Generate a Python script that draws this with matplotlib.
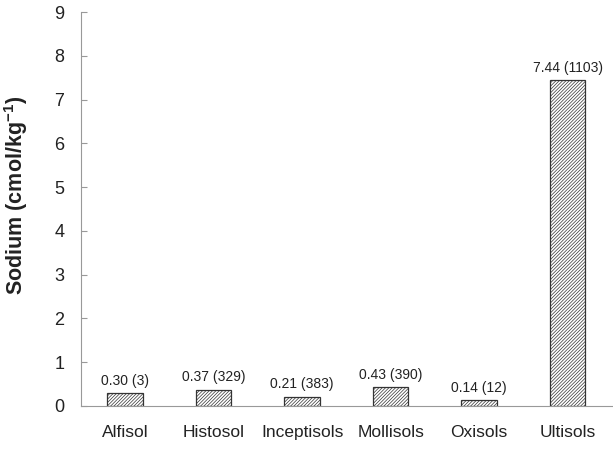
import matplotlib.pyplot as plt

plt.rcParams['font.family'] = ['Liberation Sans', 'DejaVu Sans']
plt.rcParams['mathtext.fontset'] = 'custom'
plt.rcParams['mathtext.rm'] = 'Liberation Sans'
plt.rcParams['mathtext.bf'] = 'Liberation Sans:bold'
plt.rcParams['hatch.linewidth'] = 0.5

soils = ["Alfisol", "Histosol", "Inceptisols", "Mollisols", "Oxisols", "Ultisols"]
sodium = [0.30, 0.37, 0.21, 0.43, 0.14, 7.44]
counts = [3, 329, 383, 390, 12, 1103]

fig = plt.figure(figsize=(6.13, 4.49), dpi=100)
ax = fig.add_axes([0.132, 0.096, 0.866, 0.877])

x = list(range(len(soils)))
ax.bar(x, sodium, width=0.4, color="white", edgecolor="#333333",
       hatch="//////////", linewidth=0.9)
for xi, v, n in zip(x, sodium, counts):
    ax.text(xi, v + 0.12, f"{v:.2f} ({n})", ha="center", va="bottom",
            fontsize=10, color="#222222")

ax.set_xlim(-0.5, 5.5)
ax.set_ylim(0, 9)
ax.set_yticks(range(10))
ax.set_xticks(x)
ax.set_xticklabels(soils)
ax.tick_params(axis="y", direction="in", length=4, color="#999999",
               labelsize=13, pad=12, labelcolor="#222222")
ax.tick_params(axis="x", length=0, labelsize=12.5, pad=14, labelcolor="#222222")
for s in ["top", "right"]:
    ax.spines[s].set_visible(False)
for s in ["left", "bottom"]:
    ax.spines[s].set_color("#999999")
ax.set_ylabel("Sodium (cmol/kg$^{\\mathbf{-1}}$)", fontsize=15.5,
              fontweight="bold", color="#222222")
ax.yaxis.set_label_coords(-0.095, 0.535)

fig.savefig("out.png", dpi=100)
